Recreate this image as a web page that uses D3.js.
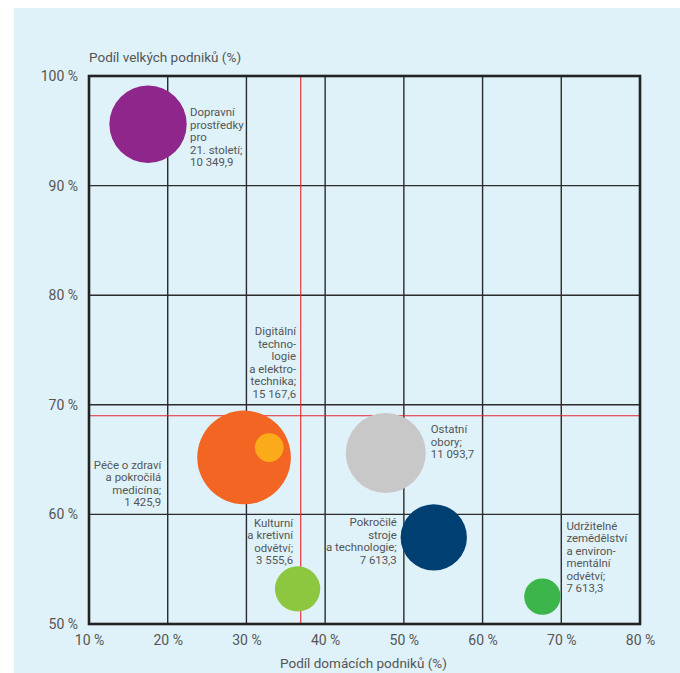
<!DOCTYPE html>
<html>
<head>
<meta charset="utf-8">
<script src="https://cdn.jsdelivr.net/npm/d3@7"></script>
<style>
  html, body { margin: 0; padding: 0; background: #ffffff; }
  svg { display: block; }
  text { font-family: Roboto, "Liberation Sans", Arial, sans-serif; }
</style>
</head>
<body>
<div id="chart"></div>
<script>
// ---- DATA ----
const categories = [
  "Dopravní prostředky pro 21. století",
  "Digitální technologie a elektrotechnika",
  "Péče o zdraví a pokročilá medicína",
  "Ostatní obory",
  "Pokročilé stroje a technologie",
  "Kulturní a kretivní odvětví",
  "Udržitelné zemědělství a environmentální odvětví"
];
const domesticShare = [17.5, 29.7, 32.9, 47.7, 53.8, 36.5, 67.6];   // x, %
const largeShare    = [95.6, 65.2, 66.1, 65.6, 57.9, 53.2, 52.5];   // y, %
const bubbleSize    = [10349.9, 15167.6, 1425.9, 11093.7, 7613.3, 3555.6, 2300];
const labelLines = [
  ["Dopravní", "prostředky", "pro", "21. století;", "10 349,9"],
  ["Digitální", "techno-", "logie", "a elektro-", "technika;", "15 167,6"],
  ["Péče o zdraví", "a pokročilá", "medicína;", "1 425,9"],
  ["Ostatní", "obory;", "11 093,7"],
  ["Pokročilé", "stroje", "a technologie;", "7 613,3"],
  ["Kulturní", "a kretivní", "odvětví;", "3 555,6"],
  ["Udržitelné", "zemědělství", "a environ-", "mentální", "odvětví;", "7 613,3"]
];
const xTicks = [10, 20, 30, 40, 50, 60, 70, 80];
const yTicks = [50, 60, 70, 80, 90, 100];
const refX = 36.9;
const refY = 69;
const xTitle = "Podíl domácích podniků (%)";
const yTitle = "Podíl velkých podniků (%)";

// ---- STYLE / LAYOUT ----
const colors = ["#8e268b", "#f26522", "#fbab19", "#c8c8c8", "#003f72", "#8dc63f", "#3cb54a"];
const drawOrder = [0, 1, 2, 3, 4, 5, 6];
// label layout: anchor + pixel offset from bubble centre to first line centre
const labelLayout = [
  {anchor: "start", dx: 42,   dy: -12},
  {anchor: "end",   dx: 52,   dy: -126},
  {anchor: "end",   dx: -108, dy: 17},
  {anchor: "start", dx: 45,   dy: -24},
  {anchor: "end",   dx: -37,  dy: -15},
  {anchor: "end",   dx: -4.5, dy: -66},
  {anchor: "start", dx: 24,   dy: -71}
];
const lineH = 12.5;

const W = 680, H = 673;
const plot = {left: 89, right: 640, top: 76, bottom: 624};

const svg = d3.select("#chart").append("svg")
  .attr("width", W).attr("height", H);

svg.append("rect")
  .attr("x", 14).attr("y", 8)
  .attr("width", W - 14).attr("height", H - 8)
  .attr("fill", "#dff2fa");

const x = d3.scaleLinear().domain([10, 80]).range([plot.left, plot.right]);
const y = d3.scaleLinear().domain([50, 100]).range([plot.bottom, plot.top]);
const r = d3.scaleSqrt().domain([0, d3.max(bubbleSize)]).range([0, 46.8]);

// grid lines
const grid = svg.append("g");
grid.selectAll("line.gx").data(xTicks.slice(1, -1)).enter().append("line")
  .attr("x1", d => x(d)).attr("x2", d => x(d))
  .attr("y1", plot.top).attr("y2", plot.bottom)
  .attr("stroke", "#2b2b2b").attr("stroke-width", 1.4);
grid.selectAll("line.gy").data(yTicks.slice(1, -1)).enter().append("line")
  .attr("x1", plot.left).attr("x2", plot.right)
  .attr("y1", d => y(d)).attr("y2", d => y(d))
  .attr("stroke", "#2b2b2b").attr("stroke-width", 1.4);

// red reference lines
svg.append("line")
  .attr("x1", x(refX)).attr("x2", x(refX))
  .attr("y1", plot.top).attr("y2", plot.bottom)
  .attr("stroke", "#e8232b").attr("stroke-width", 1.1);
svg.append("line")
  .attr("x1", plot.left).attr("x2", plot.right)
  .attr("y1", y(refY)).attr("y2", y(refY))
  .attr("stroke", "#e8232b").attr("stroke-width", 1.1);

// bubbles
svg.append("g").selectAll("circle").data(drawOrder).enter().append("circle")
  .attr("cx", i => x(domesticShare[i]))
  .attr("cy", i => y(largeShare[i]))
  .attr("r", i => r(bubbleSize[i]))
  .attr("fill", i => colors[i]);

// outer frame
svg.append("rect")
  .attr("x", plot.left).attr("y", plot.top)
  .attr("width", plot.right - plot.left).attr("height", plot.bottom - plot.top)
  .attr("fill", "none").attr("stroke", "#222").attr("stroke-width", 2.6);

// axes (labels only)
const xAxis = d3.axisBottom(x).tickValues(xTicks).tickFormat(d => d + " %").tickSize(0).tickPadding(0);
const gx = svg.append("g").attr("transform", `translate(0,${plot.bottom + 11})`).call(xAxis);
gx.select(".domain").remove();
gx.selectAll("text").attr("font-size", 14).attr("fill", "#555").attr("dy", "0.71em")
  .style("font-family", "Roboto, 'Liberation Sans', Arial, sans-serif");

const yAxis = d3.axisLeft(y).tickValues(yTicks).tickFormat(d => d + " %").tickSize(0).tickPadding(11);
const gy = svg.append("g").attr("transform", `translate(${plot.left},0)`).call(yAxis);
gy.select(".domain").remove();
gy.selectAll("text").attr("font-size", 14).attr("fill", "#555")
  .style("font-family", "Roboto, 'Liberation Sans', Arial, sans-serif");

// titles
svg.append("text").attr("x", plot.left).attr("y", 62)
  .attr("font-size", 13.5).attr("fill", "#555").text(yTitle);
svg.append("text").attr("x", (plot.left + plot.right) / 2 - 1).attr("y", 668)
  .attr("text-anchor", "middle").attr("font-size", 13.5).attr("fill", "#555").text(xTitle);

// bubble labels
const labels = svg.append("g");
categories.forEach((c, i) => {
  const L = labelLayout[i];
  const cx = x(domesticShare[i]) + L.dx;
  const cy = y(largeShare[i]) + L.dy;
  const t = labels.append("text")
    .attr("text-anchor", L.anchor)
    .attr("font-size", 11.4)
    .attr("fill", "#555");
  labelLines[i].forEach((ln, k) => {
    t.append("tspan").attr("x", cx).attr("y", cy + k * lineH + 4).text(ln);
  });
});
</script>
</body>
</html>
